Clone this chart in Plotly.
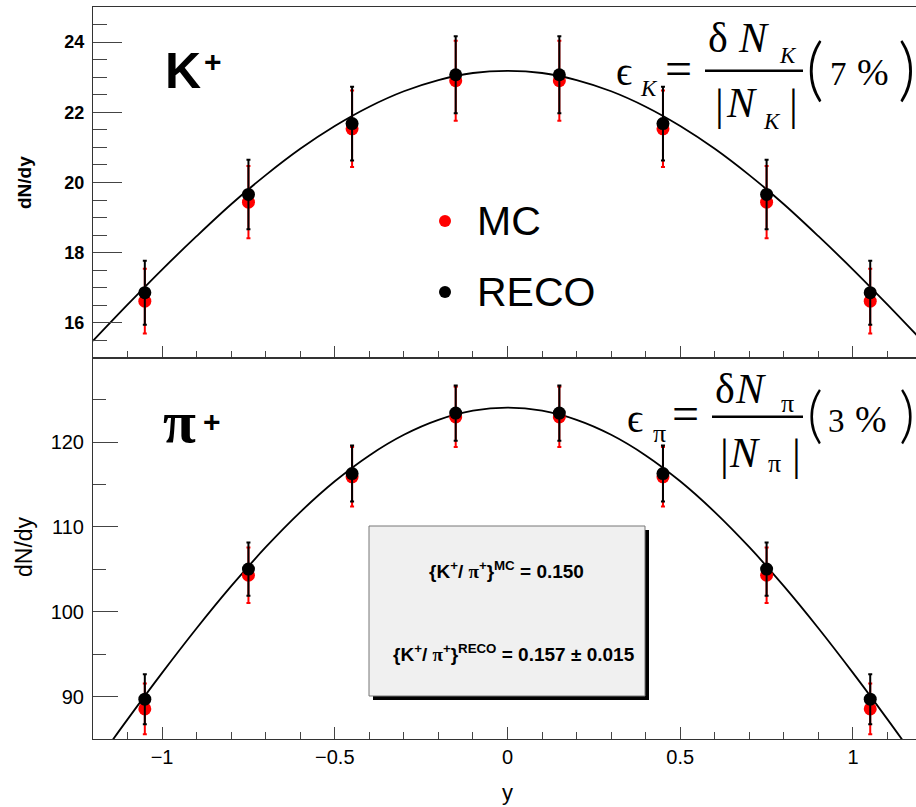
import plotly.graph_objects as go

W, H = 916, 807

# ---------------- data ----------------
y_bins = [-1.05, -0.75, -0.45, -0.15, 0.15, 0.45, 0.75, 1.05]

k_mc = [16.62, 19.44, 21.53, 22.90, 22.90, 21.53, 19.44, 16.62]
k_mc_err = [0.92, 1.03, 1.09, 1.14, 1.14, 1.09, 1.03, 0.92]
k_reco = [16.86, 19.66, 21.68, 23.07, 23.07, 21.68, 19.66, 16.86]
k_reco_err = [0.91, 0.99, 1.05, 1.10, 1.10, 1.05, 0.99, 0.91]

pi_mc = [88.55, 104.30, 115.90, 122.95, 122.95, 115.90, 104.30, 88.55]
pi_mc_err = [3.00, 3.26, 3.50, 3.55, 3.55, 3.50, 3.26, 3.00]
pi_reco = [89.69, 105.02, 116.28, 123.41, 123.41, 116.28, 105.02, 89.69]
pi_reco_err = [2.95, 3.14, 3.30, 3.25, 3.25, 3.30, 3.14, 2.95]

fit_x = [-1.2, -1.1, -1.0, -0.9, -0.8, -0.7, -0.6, -0.5, -0.4, -0.3, -0.2, -0.1, 0.0,
         0.1, 0.2, 0.3, 0.4, 0.5, 0.6, 0.7, 0.8, 0.9, 1.0, 1.1, 1.2]
k_fit = [15.49, 16.52, 17.52, 18.47, 19.38, 20.21, 20.96, 21.61, 22.16, 22.60, 22.92, 23.12, 23.18,
         23.12, 22.92, 22.60, 22.16, 21.61, 20.96, 20.21, 19.38, 18.47, 17.52, 16.52, 15.49]
pi_fit = [81.66, 87.31, 92.79, 98.05, 103.01, 107.60, 111.74, 115.37, 118.42, 120.85, 122.61, 123.69, 124.05,
          123.69, 122.61, 120.85, 118.42, 115.37, 111.74, 107.60, 103.01, 98.05, 92.79, 87.31, 81.66]

# ---------------- helpers ----------------
def px(x):
    return x / W

def py(y):
    return 1 - y / H

SANS = "Liberation Sans, Arial, Helvetica, sans-serif"
SERIF = "Liberation Serif, DejaVu Serif, serif"
THIN = "Lato, Open Sans, sans-serif"

fig = go.Figure()

def add_panel(xa, ya, mc, mc_err, reco, reco_err, fit):
    fig.add_trace(go.Scatter(x=fit_x, y=fit, mode="lines", line=dict(color="black", width=1.8, shape="spline"),
                             xaxis=xa, yaxis=ya, showlegend=False, hoverinfo="skip"))
    fig.add_trace(go.Scatter(x=y_bins, y=mc, mode="markers",
                             marker=dict(color="#ff0000", size=13, line=dict(width=0)),
                             error_y=dict(type="data", array=mc_err, color="#ff0000", thickness=2, width=2),
                             xaxis=xa, yaxis=ya, showlegend=False))
    fig.add_trace(go.Scatter(x=y_bins, y=reco, mode="markers",
                             marker=dict(color="black", size=13, line=dict(width=0)),
                             error_y=dict(type="data", array=reco_err, color="black", thickness=2, width=2),
                             xaxis=xa, yaxis=ya, showlegend=False))

add_panel("x", "y", k_mc, k_mc_err, k_reco, k_reco_err, k_fit)
add_panel("x2", "y2", pi_mc, pi_mc_err, pi_reco, pi_reco_err, pi_fit)

TICKC = "#444"
xdom = [93 / W, 1.0]
xrange_ = [-1.2, 1.1825]
xcommon = dict(range=xrange_, domain=xdom, showgrid=False, zeroline=False, showline=True,
               linecolor="#333", linewidth=1, mirror=True,
               ticks="inside", ticklen=12, tickcolor=TICKC, tickwidth=1, dtick=0.5, tick0=0,
               minor=dict(ticks="inside", ticklen=7, dtick=0.1, tickcolor=TICKC, tickwidth=1, showgrid=False))

fig.update_layout(
    width=W, height=H, autosize=False,
    margin=dict(l=0, r=0, t=0, b=0, pad=0, autoexpand=False),
    paper_bgcolor="white", plot_bgcolor="white",
    xaxis=dict(**xcommon, anchor="y", showticklabels=False, matches="x2"),
    yaxis=dict(domain=[py(358), py(7)], range=[15, 25], anchor="x", showgrid=False, zeroline=False,
               showline=True, linecolor="#333", linewidth=1,
               ticks="inside", ticklen=29, tickcolor=TICKC, tickwidth=1, dtick=2, tick0=0,
               minor=dict(ticks="inside", ticklen=14, dtick=0.5, tickcolor=TICKC, tickwidth=1, showgrid=False),
               tickfont=dict(family=SANS, size=18, color="black", weight="bold"), ticklabelstandoff=4),
    xaxis2=dict(**xcommon, anchor="y2", showticklabels=True,
                tickfont=dict(family=SANS, size=20, color="black"), ticklabelstandoff=0),
    yaxis2=dict(domain=[py(739), py(358)], range=[85, 129.9], anchor="x2", showgrid=False, zeroline=False,
                showline=True, linecolor="#333", linewidth=1,
                ticks="inside", ticklen=25, tickcolor=TICKC, tickwidth=1, dtick=10, tick0=0,
                minor=dict(ticks="inside", ticklen=13, dtick=5, tickcolor=TICKC, tickwidth=1, showgrid=False),
                tickfont=dict(family=SANS, size=20, color="black"), ticklabelstandoff=4),
)

ann = []
shapes = []

def text(t, x, yc, size, family=SANS, weight="normal", xanchor="left", angle=0, italic=False):
    ann.append(dict(text=t, x=px(x), y=py(yc), xref="paper", yref="paper", xanchor=xanchor, yanchor="middle",
                    showarrow=False, textangle=angle,
                    font=dict(family=family, size=size, color="black", weight=weight,
                              style="italic" if italic else "normal")))

def serif(t, x, baseline, size, italic=False, weight="normal"):
    text(t, x, baseline - 0.3375 * size, size, family=SERIF, italic=italic, weight=weight)

def paren(t, x, yc, size):
    text(t, x, yc, size, family=THIN, weight=300)

# axis titles
text("dN/dy", 25, 183, 19, weight="bold", xanchor="center", angle=-90)
text("dN/dy", 24, 547, 23, xanchor="center", angle=-90)
text("y", 508, 792, 22, xanchor="center")

# particle labels
text("K", 163, 70.5, 50, weight="bold")
text("+", 202, 62, 30, weight="bold")
serif("π", 161, 442, 60, weight="bold")
text("+", 201, 421, 30, weight="bold")

# legend
shapes.append(dict(type="circle", xref="paper", yref="paper", x0=px(439), x1=px(451), y0=py(227), y1=py(215),
                   fillcolor="#ff0000", line=dict(width=0)))
shapes.append(dict(type="circle", xref="paper", yref="paper", x0=px(439), x1=px(451), y0=py(298), y1=py(286),
                   fillcolor="black", line=dict(width=0)))
text("MC", 475, 221, 41)
text("RECO", 475, 292, 41)

# formula K
serif("ϵ", 614, 85, 40)
serif("K", 638, 96, 23, italic=True)
serif("=", 663, 85, 48)
serif("δ", 706, 52, 42)
serif("N", 736, 52, 42, italic=True)
serif("K", 777, 63, 23, italic=True)
shapes.append(dict(type="line", xref="paper", yref="paper", x0=px(705), x1=px(803), y0=py(70.7), y1=py(70.7),
                   line=dict(color="black", width=2.5)))
serif("|", 713, 120, 44)
serif("N", 724, 117, 42, italic=True)
serif("K", 761, 129, 23, italic=True)
serif("|", 787, 120, 44)
paren("(", 804, 66, 69)
serif("7", 828, 85, 33)
serif("%", 855, 85, 38)
paren(")", 896, 66, 69)

# formula pi
serif("ϵ", 625, 432, 40)
serif("π", 651, 442, 26)
serif("=", 670, 430, 48)
serif("δ", 713, 403, 42)
serif("N", 733, 403, 42, italic=True)
serif("π", 779, 412, 26)
shapes.append(dict(type="line", xref="paper", yref="paper", x0=px(712), x1=px(803), y0=py(416.7), y1=py(416.7),
                   line=dict(color="black", width=2.5)))
serif("|", 718, 470, 44)
serif("N", 727, 467, 42, italic=True)
serif("π", 766, 472, 26)
serif("|", 790, 470, 44)
paren("(", 805, 412, 62)
serif("3", 826, 432, 33)
serif("%", 853, 432, 38)
paren(")", 897, 412, 62)

# ratio box
shapes.append(dict(type="rect", xref="paper", yref="paper", x0=px(373), x1=px(649), y0=py(700), y1=py(530),
                   fillcolor="black", line=dict(width=0)))
shapes.append(dict(type="rect", xref="paper", yref="paper", x0=px(369), x1=px(645), y0=py(696), y1=py(526),
                   fillcolor="#f0f0f0", line=dict(color="#777", width=1)))
PI = '<span style="font-family:Liberation Serif, serif">π</span>'
text("{K<sup>+</sup>/ " + PI + "<sup>+</sup>}<sup>MC</sup> = 0.150", 506, 570, 19, weight="bold", xanchor="center")
text("{K<sup>+</sup>/ " + PI + "<sup>+</sup>}<sup>RECO</sup> = 0.157 ± 0.015", 514, 653, 19, weight="bold",
     xanchor="center")

fig.update_layout(annotations=ann, shapes=shapes)
fig.write_html("out.html")
